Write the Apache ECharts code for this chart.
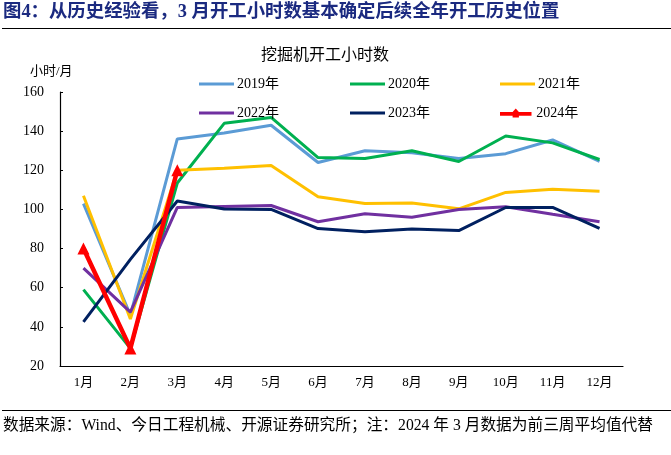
<!DOCTYPE html>
<html><head><meta charset="utf-8">
<script src="https://cdn.jsdelivr.net/npm/echarts@6/dist/echarts.min.js"></script>
<style>html,body{margin:0;padding:0;background:#fff}#c{width:671px;height:455px}</style>
</head><body><div id="c"></div>
<script>
var months = ['1月','2月','3月','4月','5月','6月','7月','8月','9月','10月','11月','12月'];
var y2019 = [103, 46, 136, 139, 143, 124, 130, 129, 126, 128.5, 135.5, 124.5];
var y2020 = [59, 29, 113.5, 144, 147, 126.5, 126, 130, 124.5, 137.5, 134, 125.5];
var y2021 = [107, 44, 120, 121, 122.5, 106.5, 103, 103.3, 100.3, 108.7, 110.3, 109.3];
var y2022 = [70, 47.5, 101, 101.5, 102, 93.7, 97.8, 96, 100, 101.4, 97.5, 93.7];
var y2023 = [42.5, 74.5, 104.3, 100.2, 100, 90.2, 88.6, 90, 89.2, 101, 101, 90.3];
var y2024 = [80, 29, 120];
var names = ['2019年','2020年','2021年','2022年','2023年','2024年'];
var colors = ['#5B9BD5','#00B050','#FFC000','#7030A0','#002060','#FF0000'];
var yTicks = [20, 160, 20];

var F = '"Liberation Serif","Noto Sans CJK SC",serif';
var chart = echarts.init(document.getElementById('c'));
var datas = [y2019,y2020,y2021,y2022,y2023,y2024];
var series = datas.map(function(d,i){
  var isRed = i===5;
  return {
    name: names[i], type:'line', data:d, z: isRed?10:(2+i),
    symbol: isRed?'triangle':'none', symbolSize: isRed?12:0, showSymbol:isRed,
    itemStyle:{color:colors[i]},
    lineStyle:{color:colors[i], width: isRed?4.5:3},
    animation:false
  };
});
var legendPos = [[199,77],[350,77],[500,77],[199,106],[350,106],[500,106]];
var redIcon = 'path://M0,4 L14,4 L17.5,0 L21,4 L35,4 L35,8 L21,8 L21,10 L14,10 L14,8 L0,8 Z';
var legends = names.map(function(n,i){
  var isRed = i===5;
  return {data:[{name:n, icon: isRed?redIcon:'rect'}], left:legendPos[i][0], top:legendPos[i][1],
    padding:0, itemWidth:35, itemHeight: isRed?9:3, itemGap:0,
    textStyle:{fontFamily:F, fontSize:14, color:'#000', padding:[0,0,0,-2]}};
});
chart.setOption({
  backgroundColor:'#fff',
  animation:false,
  title:[
    {text:'图4：从历史经验看，3 月开工小时数基本确定后续全年开工历史位置', left:3, top:3, padding:0,
     textStyle:{fontFamily:F, fontSize:18.4, fontWeight:'bold', color:'#1B2A80'}},
    {text:'挖掘机开工小时数', left:261, top:48, padding:0, textStyle:{fontFamily:F, fontSize:16, fontWeight:'normal', color:'#000'}},
    {text:'小时/月', left:30, top:65, padding:0, textStyle:{fontFamily:F, fontSize:13, fontWeight:'normal', color:'#000'}},
    {text:'数据来源：Wind、今日工程机械、开源证券研究所；注：2024 年 3 月数据为前三周平均值代替', left:3, top:418, padding:0,
     textStyle:{fontFamily:F, fontSize:15.7, fontWeight:'normal', color:'#000'}}
  ],
  graphic:[
    {type:'line', shape:{x1:2,y1:28.5,x2:671,y2:28.5}, style:{stroke:'#000', lineWidth:1.2}},
    {type:'line', shape:{x1:2,y1:410.5,x2:671,y2:410.5}, style:{stroke:'#000', lineWidth:1.2}}
  ],
  legend: legends,
  grid:{left:60, right:48, top:92, bottom:89, containLabel:false},
  xAxis:{type:'category', data:months, boundaryGap:true,
    axisLine:{lineStyle:{color:'#000', width:1.2}},
    axisTick:{inside:true, length:4, lineStyle:{color:'#000'}},
    axisLabel:{fontFamily:F, fontSize:13, color:'#000', margin:10}},
  yAxis:{type:'value', min:yTicks[0], max:yTicks[1], interval:yTicks[2],
    splitLine:{show:false},
    axisLine:{show:true, lineStyle:{color:'#000', width:1.2}},
    axisTick:{show:true, inside:true, length:3, lineStyle:{color:'#000'}},
    axisLabel:{fontFamily:F, fontSize:14, color:'#000', margin:16}},
  series: series
});
</script></body></html>
